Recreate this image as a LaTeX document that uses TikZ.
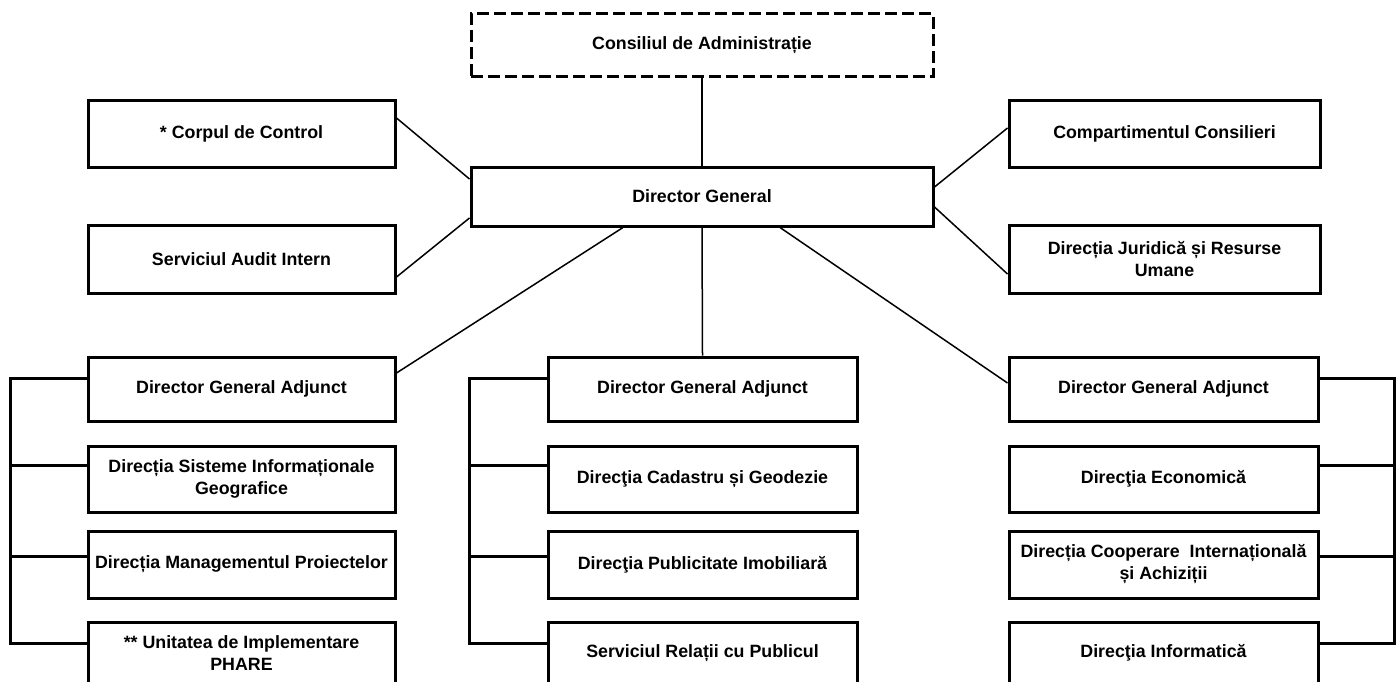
\documentclass[tikz,border=0pt]{standalone}
\usepackage{fontspec}
\setmainfont{Liberation Sans}
\begin{document}
\begin{tikzpicture}[x=1pt, y=-1pt,
        box/.style = {draw, line width = 3pt, align = center, inner sep = 1pt,
            font = \fontsize{17.8}{22}\selectfont\bfseries},
        boxL/.style = {box, minimum width = 307pt, minimum height = 65pt},
        boxW/.style = {box, minimum width = 462pt},
        link/.style = {line width = 1.5pt},
        bracket/.style = {line width = 3pt}]
        \useasboundingbox ( 0, 0 ) rectangle ( 1399, 682 );
        \clip ( 0, 0 ) rectangle ( 1399, 682 );

        % центры колонок
        \def \Lx { 241.5 };
        \def \Mx { 702.5 };
        \def \Rx { 1163.5 };

        % верх
        \node [boxW, minimum height = 63pt, dashed, dash pattern = on 12pt off 5pt] (consiliu) at ( 702, 45.5 ) {Consiliul de Administrație};
        \node [boxW, minimum height = 59pt] (dg) at ( 702, 196.5 ) {Director General};

        \node [boxL, minimum height = 66pt] (corp) at ( \Lx, 134 ) {* Corpul de Control};
        \node [boxL, minimum height = 68pt] (audit) at ( \Lx, 259 ) {Serviciul Audit Intern};
        \node [boxL, minimum width = 311pt, minimum height = 66pt] (consilieri) at ( 1164.5, 134 ) {Compartimentul Consilieri};
        \node [boxL, minimum width = 311pt, minimum height = 68pt] (juridic) at ( 1164.5, 259 ) {Direcția Juridică și Resurse\\Umane};

        % левая колонка
        \node [boxL, minimum height = 64pt] (dgaL) at ( \Lx, 389 ) {Director General Adjunct};
        \node [boxL, minimum height = 66pt] (gis) at ( \Lx, 479 ) {Direcția Sisteme Informaționale\\Geografice};
        \node [boxL, minimum height = 67pt] (proiecte) at ( \Lx, 564.5 ) {Direcția Managementul Proiectelor};
        \node [boxL, minimum height = 62pt] (phare) at ( \Lx, 653 ) {** Unitatea de Implementare\\PHARE};

        % средняя колонка
        \node [boxL, minimum width = 309pt, minimum height = 64pt] (dgaM) at ( \Mx, 389 ) {Director General Adjunct};
        \node [boxL, minimum width = 309pt, minimum height = 66pt] (cadastru) at ( \Mx, 479 ) {Direcţia Cadastru și Geodezie};
        \node [boxL, minimum width = 309pt, minimum height = 67pt] (publicitate) at ( \Mx, 564.5 ) {Direcţia Publicitate Imobiliară};
        \node [boxL, minimum width = 309pt, minimum height = 62pt] (relatii) at ( \Mx, 653 ) {Serviciul Relații cu Publicul};

        % правая колонка
        \node [boxL, minimum width = 309pt, minimum height = 64pt] (dgaR) at ( \Rx, 389 ) {Director General Adjunct};
        \node [boxL, minimum width = 309pt, minimum height = 66pt] (economic) at ( \Rx, 479 ) {Direcţia Economică};
        \node [boxL, minimum width = 309pt, minimum height = 67pt] (cooperare) at ( \Rx, 564.5 ) {Direcția Cooperare \ Internațională\\și Achiziții};
        \node [boxL, minimum width = 309pt, minimum height = 62pt] (informatic) at ( \Rx, 653 ) {Direcţia Informatică};

        % связи от директора
        \draw [link] (consiliu) -- (dg);
        \draw [link] ([yshift = 16pt]corp.east) -- ([yshift = 17.5pt]dg.west);
        \draw [link] ([yshift = -18pt]audit.east) -- ([yshift = -21.5pt]dg.west);
        \draw [link] ([yshift = 9.5pt]dg.east) -- ([yshift = 6pt]consilieri.west);
        \draw [link] ([yshift = -10.5pt]dg.east) -- ([yshift = -15pt]juridic.west);
        \draw [link] ([xshift = -79pt]dg.south) -- ([yshift = 16pt]dgaL.east);
        \draw [link] (dg.south) -- (dgaM.north);
        \draw [link] ([xshift = 78pt]dg.south) -- ([yshift = 6pt]dgaR.west);

        % скобки
        \draw [bracket] ([yshift = 11pt]dgaL.west) -- ++ ( -76, 0 ) |- ([yshift = 10pt]phare.west);
        \draw [bracket] ([yshift = 11pt]dgaM.west) -- ++ ( -77, 0 ) |- ([yshift = 10pt]relatii.west);
        \draw [bracket] ([yshift = 11pt]dgaR.east) -- ++ ( 75, 0 ) |- ([yshift = 10pt]informatic.east);
        \foreach \n / \s in {gis/14, proiecte/8.5, cadastru/14, publicitate/8.5}
            \draw [bracket] ([yshift = \s pt]\n.west) -- ++ ( -77, 0 );
        \foreach \n / \s in {economic/14, cooperare/8.5}
            \draw [bracket] ([yshift = \s pt]\n.east) -- ++ ( 75, 0 );
    \end{tikzpicture}
\end{document}
